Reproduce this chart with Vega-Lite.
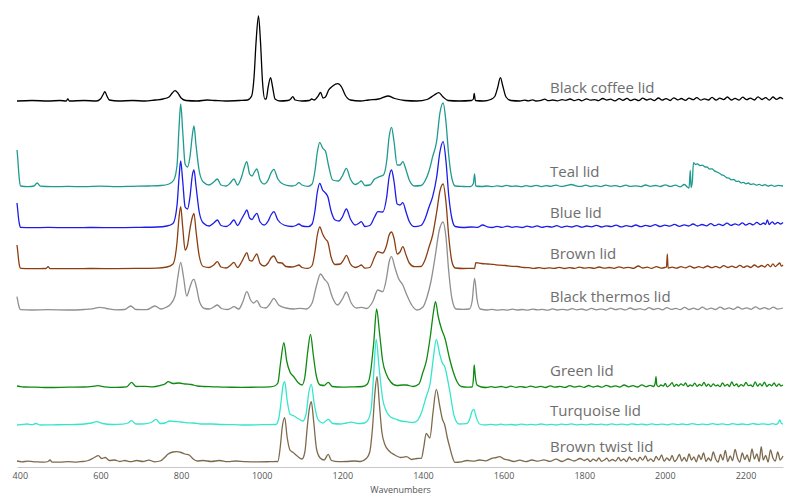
{
  "$schema": "https://vega.github.io/schema/vega-lite/v6.json",
  "autosize": "none",
  "width": 766,
  "height": 467,
  "padding": {"left": 17, "top": 0, "right": 17, "bottom": 33},
  "background": "white",
  "config": {"view": {"stroke": null}},
  "datasets": {
    "coffee": [
      {"wn":393,"i":366},{"wn":430,"i":366.5},{"wn":470,"i":366},{"wn":500,"i":366.5},{"wn":515,"i":366},{"wn":519,"i":368},{"wn":523,"i":366},{"wn":560,"i":366.5},{"wn":590,"i":366},{"wn":600,"i":368},{"wn":606,"i":372},{"wn":611,"i":375.3},{"wn":616,"i":371},{"wn":622,"i":367},{"wn":645,"i":366},{"wn":680,"i":366.5},{"wn":710,"i":366},{"wn":735,"i":367},{"wn":755,"i":368},{"wn":770,"i":370},{"wn":778,"i":374},{"wn":785,"i":376.3},{"wn":792,"i":374},{"wn":800,"i":369},{"wn":812,"i":366.5},{"wn":840,"i":366},{"wn":865,"i":367},{"wn":885,"i":366.5},{"wn":910,"i":366},{"wn":945,"i":366.5},{"wn":965,"i":367},{"wn":975,"i":371},{"wn":981,"i":390},{"wn":986,"i":425},{"wn":992,"i":451},{"wn":997,"i":425},{"wn":1002,"i":385},{"wn":1008,"i":368},{"wn":1011,"i":368},{"wn":1016,"i":380},{"wn":1022,"i":389.3},{"wn":1027,"i":380},{"wn":1033,"i":368},{"wn":1045,"i":366},{"wn":1065,"i":366.5},{"wn":1072,"i":368},{"wn":1077,"i":370.3},{"wn":1083,"i":367},{"wn":1100,"i":366},{"wn":1118,"i":366.5},{"wn":1124,"i":368},{"wn":1130,"i":367},{"wn":1140,"i":371},{"wn":1146,"i":374.7},{"wn":1152,"i":369},{"wn":1158,"i":370},{"wn":1166,"i":377},{"wn":1176,"i":381},{"wn":1189,"i":383.3},{"wn":1198,"i":380},{"wn":1207,"i":372},{"wn":1220,"i":367},{"wn":1245,"i":366},{"wn":1265,"i":367},{"wn":1290,"i":368},{"wn":1313,"i":371},{"wn":1330,"i":368.5},{"wn":1355,"i":366.5},{"wn":1385,"i":366},{"wn":1410,"i":367.5},{"wn":1428,"i":372},{"wn":1439,"i":374.3},{"wn":1450,"i":370},{"wn":1462,"i":366.5},{"wn":1490,"i":366},{"wn":1520,"i":366.5},{"wn":1525,"i":368},{"wn":1527,"i":373.5},{"wn":1530,"i":366.5},{"wn":1550,"i":366},{"wn":1568,"i":367.5},{"wn":1578,"i":370.5},{"wn":1585,"i":379},{"wn":1592,"i":389.3},{"wn":1598,"i":381},{"wn":1606,"i":370},{"wn":1618,"i":366.5},{"wn":1640,"i":366},{"wn":1652,"i":366.8},{"wn":1661,"i":366.2},{"wn":1672,"i":367.2},{"wn":1680,"i":366},{"wn":1693,"i":366.7},{"wn":1702,"i":367.8},{"wn":1711,"i":366.3},{"wn":1722,"i":367},{"wn":1733,"i":366.1},{"wn":1745,"i":367.4},{"wn":1754,"i":366.6},{"wn":1765,"i":368},{"wn":1775,"i":366.4},{"wn":1786,"i":367.6},{"wn":1794,"i":366.2},{"wn":1806,"i":368.2},{"wn":1815,"i":366.8},{"wn":1826,"i":367.4},{"wn":1835,"i":366.3},{"wn":1846,"i":368.5},{"wn":1856,"i":366.9},{"wn":1865,"i":367.8},{"wn":1876,"i":366.2},{"wn":1887,"i":368.3},{"wn":1896,"i":366.7},{"wn":1906,"i":368.6},{"wn":1915,"i":366.5},{"wn":1925,"i":367.9},{"wn":1935,"i":366.3},{"wn":1945,"i":368.8},{"wn":1955,"i":367},{"wn":1964,"i":368.2},{"wn":1974,"i":366.4},{"wn":1984,"i":369},{"wn":1993,"i":366.9},{"wn":2003,"i":368.4},{"wn":2013,"i":366.5},{"wn":2022,"i":369.2},{"wn":2032,"i":367.1},{"wn":2041,"i":368.5},{"wn":2051,"i":366.6},{"wn":2060,"i":368.9},{"wn":2070,"i":367.3},{"wn":2079,"i":369.4},{"wn":2089,"i":366.8},{"wn":2098,"i":368.2},{"wn":2108,"i":367},{"wn":2117,"i":369.6},{"wn":2127,"i":366.9},{"wn":2136,"i":368.8},{"wn":2146,"i":367.4},{"wn":2155,"i":370},{"wn":2165,"i":367},{"wn":2174,"i":368.6},{"wn":2184,"i":366.8},{"wn":2193,"i":369.8},{"wn":2203,"i":367.3},{"wn":2212,"i":368.9},{"wn":2222,"i":367},{"wn":2231,"i":370.2},{"wn":2241,"i":367.5},{"wn":2250,"i":369.3},{"wn":2259,"i":366.9},{"wn":2268,"i":370},{"wn":2277,"i":367.6},{"wn":2286,"i":369.5},{"wn":2293,"i":368}
    ],
    "teal": [
      {"wn":393,"i":317},{"wn":395,"i":308},{"wn":397,"i":296},{"wn":399,"i":287},{"wn":402,"i":281},{"wn":420,"i":280.3},{"wn":435,"i":281},{"wn":443,"i":284},{"wn":451,"i":280.8},{"wn":480,"i":280.3},{"wn":520,"i":280.6},{"wn":560,"i":280.3},{"wn":600,"i":280.8},{"wn":640,"i":280.4},{"wn":680,"i":280.7},{"wn":720,"i":281},{"wn":750,"i":281.5},{"wn":770,"i":283},{"wn":782,"i":287},{"wn":790,"i":302},{"wn":795,"i":340},{"wn":799,"i":363},{"wn":804,"i":336},{"wn":810,"i":303},{"wn":816,"i":300},{"wn":822,"i":310},{"wn":828,"i":332},{"wn":832,"i":341},{"wn":837,"i":322},{"wn":845,"i":296},{"wn":855,"i":285},{"wn":870,"i":282},{"wn":881,"i":285},{"wn":890,"i":288},{"wn":899,"i":282},{"wn":912,"i":281},{"wn":922,"i":284},{"wn":931,"i":288},{"wn":940,"i":282},{"wn":950,"i":290},{"wn":957,"i":300},{"wn":963,"i":305.3},{"wn":970,"i":293},{"wn":976,"i":291},{"wn":982,"i":295},{"wn":988,"i":298},{"wn":996,"i":287},{"wn":1006,"i":283},{"wn":1016,"i":287},{"wn":1023,"i":294},{"wn":1030,"i":297.7},{"wn":1040,"i":288},{"wn":1055,"i":282.5},{"wn":1075,"i":281},{"wn":1085,"i":282},{"wn":1092,"i":284.3},{"wn":1100,"i":282},{"wn":1115,"i":280.7},{"wn":1125,"i":283},{"wn":1132,"i":296},{"wn":1138,"i":315},{"wn":1144,"i":324.7},{"wn":1151,"i":319},{"wn":1158,"i":316},{"wn":1166,"i":301},{"wn":1176,"i":287},{"wn":1190,"i":286},{"wn":1200,"i":291},{"wn":1210,"i":298.7},{"wn":1220,"i":288},{"wn":1232,"i":282.5},{"wn":1240,"i":284},{"wn":1247,"i":286},{"wn":1256,"i":281.5},{"wn":1268,"i":282},{"wn":1280,"i":288},{"wn":1292,"i":290.3},{"wn":1302,"i":292},{"wn":1310,"i":306},{"wn":1316,"i":330},{"wn":1322,"i":339.7},{"wn":1328,"i":326},{"wn":1336,"i":302},{"wn":1343,"i":302},{"wn":1350,"i":305.3},{"wn":1358,"i":297},{"wn":1366,"i":287},{"wn":1379,"i":281},{"wn":1395,"i":281.5},{"wn":1405,"i":286},{"wn":1415,"i":296},{"wn":1424,"i":310.3},{"wn":1434,"i":326},{"wn":1442,"i":354},{"wn":1450,"i":364},{"wn":1457,"i":345},{"wn":1464,"i":311},{"wn":1472,"i":288},{"wn":1480,"i":281},{"wn":1500,"i":280.5},{"wn":1518,"i":280.3},{"wn":1525,"i":283.5},{"wn":1528,"i":293},{"wn":1531,"i":281},{"wn":1545,"i":280.5},{"wn":1560,"i":281},{"wn":1572,"i":280.3},{"wn":1583,"i":281.2},{"wn":1596,"i":280.5},{"wn":1607,"i":281.6},{"wn":1620,"i":280.6},{"wn":1631,"i":281},{"wn":1645,"i":280.3},{"wn":1656,"i":281.4},{"wn":1668,"i":280.5},{"wn":1681,"i":281.7},{"wn":1693,"i":280.4},{"wn":1706,"i":281.3},{"wn":1717,"i":280.7},{"wn":1730,"i":281.9},{"wn":1742,"i":280.6},{"wn":1756,"i":281.5},{"wn":1768,"i":282.5},{"wn":1779,"i":281.2},{"wn":1791,"i":280.6},{"wn":1804,"i":281.8},{"wn":1816,"i":280.5},{"wn":1829,"i":281.3},{"wn":1841,"i":280.4},{"wn":1853,"i":281.9},{"wn":1866,"i":280.8},{"wn":1878,"i":281.4},{"wn":1890,"i":280.3},{"wn":1903,"i":281.8},{"wn":1915,"i":280.6},{"wn":1927,"i":281.2},{"wn":1940,"i":280.4},{"wn":1952,"i":282},{"wn":1964,"i":280.7},{"wn":1977,"i":281.5},{"wn":1989,"i":280.5},{"wn":2001,"i":282.2},{"wn":2013,"i":280.6},{"wn":2026,"i":281.8},{"wn":2038,"i":280.2},{"wn":2048,"i":282.5},{"wn":2055,"i":280.3},{"wn":2060,"i":279},{"wn":2063,"i":296.5},{"wn":2065,"i":279.5},{"wn":2068,"i":285},{"wn":2071,"i":304.3},{"wn":2076,"i":302.5},{"wn":2081,"i":303.2},{"wn":2087,"i":301.4},{"wn":2093,"i":301.8},{"wn":2099,"i":300.2},{"wn":2105,"i":299.8},{"wn":2111,"i":297.9},{"wn":2117,"i":298.2},{"wn":2123,"i":296.1},{"wn":2129,"i":295},{"wn":2135,"i":293.8},{"wn":2141,"i":292.2},{"wn":2147,"i":291.3},{"wn":2153,"i":289.4},{"wn":2159,"i":288.8},{"wn":2165,"i":287.1},{"wn":2171,"i":287.5},{"wn":2177,"i":285.6},{"wn":2183,"i":285.8},{"wn":2189,"i":284.2},{"wn":2195,"i":284.6},{"wn":2201,"i":283.2},{"wn":2207,"i":284},{"wn":2213,"i":282.6},{"wn":2220,"i":283.1},{"wn":2227,"i":281.8},{"wn":2234,"i":282.7},{"wn":2241,"i":281.4},{"wn":2248,"i":282.3},{"wn":2256,"i":280.9},{"wn":2264,"i":281.9},{"wn":2272,"i":280.7},{"wn":2281,"i":281.6},{"wn":2293,"i":281}
    ],
    "blue": [
      {"wn":393,"i":264},{"wn":395,"i":256},{"wn":397,"i":248},{"wn":399,"i":243},{"wn":402,"i":239.6},{"wn":430,"i":239.3},{"wn":470,"i":239.6},{"wn":520,"i":239.3},{"wn":580,"i":239.5},{"wn":640,"i":239.4},{"wn":700,"i":239.7},{"wn":740,"i":240},{"wn":765,"i":241},{"wn":780,"i":243.5},{"wn":790,"i":262},{"wn":795,"i":290},{"wn":799,"i":306},{"wn":804,"i":286},{"wn":810,"i":260},{"wn":816,"i":258},{"wn":822,"i":270},{"wn":828,"i":292},{"wn":832,"i":297},{"wn":837,"i":281},{"wn":845,"i":255},{"wn":855,"i":244},{"wn":870,"i":241},{"wn":881,"i":244},{"wn":890,"i":247},{"wn":899,"i":241.5},{"wn":912,"i":240.5},{"wn":922,"i":243},{"wn":931,"i":247},{"wn":940,"i":241.5},{"wn":950,"i":248},{"wn":957,"i":253},{"wn":963,"i":257},{"wn":970,"i":249},{"wn":976,"i":247.5},{"wn":982,"i":251},{"wn":988,"i":253.7},{"wn":996,"i":245},{"wn":1006,"i":242},{"wn":1016,"i":246},{"wn":1023,"i":252},{"wn":1030,"i":255.3},{"wn":1040,"i":247},{"wn":1055,"i":242},{"wn":1075,"i":240.5},{"wn":1085,"i":241.5},{"wn":1092,"i":243},{"wn":1100,"i":241},{"wn":1115,"i":240.3},{"wn":1125,"i":243},{"wn":1132,"i":256},{"wn":1138,"i":275},{"wn":1144,"i":283.7},{"wn":1151,"i":277},{"wn":1158,"i":274},{"wn":1164,"i":270.3},{"wn":1172,"i":256},{"wn":1182,"i":247},{"wn":1192,"i":246},{"wn":1200,"i":250},{"wn":1210,"i":258},{"wn":1220,"i":248},{"wn":1232,"i":242},{"wn":1240,"i":243.5},{"wn":1247,"i":245.3},{"wn":1256,"i":240.5},{"wn":1268,"i":241.5},{"wn":1280,"i":250},{"wn":1288,"i":255.3},{"wn":1300,"i":255},{"wn":1310,"i":270},{"wn":1316,"i":290},{"wn":1322,"i":297},{"wn":1328,"i":286},{"wn":1336,"i":263},{"wn":1343,"i":262},{"wn":1350,"i":264.3},{"wn":1358,"i":255},{"wn":1366,"i":245.5},{"wn":1379,"i":240.3},{"wn":1395,"i":241.5},{"wn":1405,"i":248},{"wn":1415,"i":260},{"wn":1424,"i":270.3},{"wn":1434,"i":290},{"wn":1442,"i":315},{"wn":1450,"i":325.3},{"wn":1457,"i":306},{"wn":1464,"i":271},{"wn":1472,"i":248},{"wn":1480,"i":240.5},{"wn":1500,"i":239.5},{"wn":1520,"i":240},{"wn":1535,"i":239.6},{"wn":1548,"i":242},{"wn":1560,"i":240.2},{"wn":1572,"i":239.5},{"wn":1584,"i":240.6},{"wn":1596,"i":239.6},{"wn":1609,"i":240.9},{"wn":1621,"i":239.7},{"wn":1633,"i":240.4},{"wn":1646,"i":239.5},{"wn":1658,"i":240.8},{"wn":1670,"i":239.8},{"wn":1683,"i":241.1},{"wn":1695,"i":239.6},{"wn":1707,"i":240.6},{"wn":1720,"i":239.9},{"wn":1732,"i":241.3},{"wn":1744,"i":239.7},{"wn":1757,"i":240.9},{"wn":1769,"i":240},{"wn":1781,"i":241.4},{"wn":1794,"i":239.8},{"wn":1806,"i":241},{"wn":1818,"i":240.1},{"wn":1830,"i":241.6},{"wn":1843,"i":240},{"wn":1855,"i":241.2},{"wn":1867,"i":240.3},{"wn":1879,"i":241.8},{"wn":1892,"i":240.1},{"wn":1904,"i":241.3},{"wn":1916,"i":240.4},{"wn":1928,"i":242},{"wn":1940,"i":240.3},{"wn":1952,"i":241.6},{"wn":1964,"i":240.6},{"wn":1976,"i":242.3},{"wn":1988,"i":240.5},{"wn":2000,"i":241.9},{"wn":2012,"i":240.8},{"wn":2024,"i":242.6},{"wn":2036,"i":240.7},{"wn":2048,"i":242.2},{"wn":2059,"i":241},{"wn":2070,"i":243},{"wn":2081,"i":241},{"wn":2092,"i":242.5},{"wn":2103,"i":241.2},{"wn":2114,"i":243.4},{"wn":2124,"i":241.3},{"wn":2134,"i":242.8},{"wn":2144,"i":241.5},{"wn":2154,"i":243.8},{"wn":2164,"i":241.6},{"wn":2174,"i":243.2},{"wn":2183,"i":241.8},{"wn":2192,"i":244.2},{"wn":2201,"i":242},{"wn":2210,"i":243.6},{"wn":2219,"i":242.1},{"wn":2228,"i":244.6},{"wn":2237,"i":242.3},{"wn":2245,"i":244},{"wn":2250,"i":242.6},{"wn":2254,"i":247},{"wn":2259,"i":242.5},{"wn":2266,"i":245.2},{"wn":2273,"i":242.8},{"wn":2280,"i":244.6},{"wn":2287,"i":243},{"wn":2293,"i":244.5}
    ],
    "brown": [
      {"wn":393,"i":222},{"wn":395,"i":215},{"wn":397,"i":207},{"wn":399,"i":201.5},{"wn":402,"i":198.6},{"wn":430,"i":198.3},{"wn":465,"i":198.5},{"wn":470,"i":200.3},{"wn":475,"i":198.4},{"wn":520,"i":198.3},{"wn":580,"i":198.5},{"wn":640,"i":198.4},{"wn":700,"i":198.6},{"wn":740,"i":198.8},{"wn":765,"i":200},{"wn":780,"i":203},{"wn":790,"i":225},{"wn":795,"i":250},{"wn":799,"i":260.3},{"wn":804,"i":240},{"wn":810,"i":217},{"wn":816,"i":222},{"wn":822,"i":238},{"wn":828,"i":250},{"wn":832,"i":253.7},{"wn":837,"i":236},{"wn":845,"i":211},{"wn":855,"i":200.5},{"wn":870,"i":199.5},{"wn":881,"i":202},{"wn":890,"i":205.3},{"wn":899,"i":200},{"wn":912,"i":199},{"wn":922,"i":201.5},{"wn":931,"i":204.7},{"wn":940,"i":199.5},{"wn":950,"i":205},{"wn":957,"i":210.5},{"wn":963,"i":214.3},{"wn":970,"i":206.5},{"wn":976,"i":206},{"wn":982,"i":210},{"wn":988,"i":213},{"wn":996,"i":203.5},{"wn":1006,"i":201},{"wn":1016,"i":204},{"wn":1023,"i":209},{"wn":1030,"i":211},{"wn":1040,"i":204.5},{"wn":1050,"i":204},{"wn":1060,"i":200.5},{"wn":1075,"i":200},{"wn":1085,"i":201},{"wn":1092,"i":202},{"wn":1100,"i":199.5},{"wn":1115,"i":198.6},{"wn":1125,"i":201.5},{"wn":1132,"i":215},{"wn":1138,"i":232},{"wn":1144,"i":240},{"wn":1151,"i":233},{"wn":1158,"i":228},{"wn":1164,"i":225},{"wn":1172,"i":210},{"wn":1182,"i":202.5},{"wn":1195,"i":203},{"wn":1203,"i":207},{"wn":1210,"i":211.7},{"wn":1220,"i":203},{"wn":1232,"i":199.5},{"wn":1240,"i":200.5},{"wn":1247,"i":202},{"wn":1256,"i":198.8},{"wn":1268,"i":199.5},{"wn":1280,"i":210},{"wn":1288,"i":215.3},{"wn":1300,"i":214},{"wn":1310,"i":222},{"wn":1316,"i":232},{"wn":1322,"i":235},{"wn":1328,"i":229},{"wn":1336,"i":213},{"wn":1343,"i":215},{"wn":1350,"i":220.3},{"wn":1358,"i":212},{"wn":1366,"i":204},{"wn":1379,"i":200.3},{"wn":1395,"i":200.5},{"wn":1405,"i":207},{"wn":1415,"i":220},{"wn":1424,"i":232},{"wn":1434,"i":255},{"wn":1442,"i":276},{"wn":1450,"i":283},{"wn":1457,"i":265},{"wn":1464,"i":230},{"wn":1472,"i":205},{"wn":1480,"i":199},{"wn":1500,"i":198.5},{"wn":1520,"i":198.7},{"wn":1528,"i":198.5},{"wn":1531,"i":204.3},{"wn":1545,"i":203.5},{"wn":1560,"i":203},{"wn":1575,"i":202.6},{"wn":1590,"i":201.8},{"wn":1605,"i":201.5},{"wn":1620,"i":200.6},{"wn":1635,"i":200.5},{"wn":1650,"i":199.5},{"wn":1663,"i":199.3},{"wn":1676,"i":198.6},{"wn":1688,"i":199.4},{"wn":1701,"i":198.5},{"wn":1713,"i":199.1},{"wn":1726,"i":198.6},{"wn":1738,"i":199.6},{"wn":1751,"i":198.5},{"wn":1763,"i":199.3},{"wn":1776,"i":198.7},{"wn":1788,"i":199.8},{"wn":1800,"i":198.8},{"wn":1813,"i":199.4},{"wn":1825,"i":198.6},{"wn":1837,"i":200},{"wn":1850,"i":198.8},{"wn":1862,"i":199.5},{"wn":1874,"i":198.7},{"wn":1886,"i":200.2},{"wn":1898,"i":198.9},{"wn":1910,"i":199.7},{"wn":1922,"i":198.7},{"wn":1934,"i":201},{"wn":1945,"i":199},{"wn":1956,"i":199.8},{"wn":1967,"i":198.7},{"wn":1979,"i":200.3},{"wn":1991,"i":198.9},{"wn":2000,"i":199.5},{"wn":2004,"i":200},{"wn":2006,"i":213},{"wn":2008,"i":199},{"wn":2018,"i":199.9},{"wn":2029,"i":198.8},{"wn":2040,"i":200.4},{"wn":2051,"i":199.1},{"wn":2062,"i":200.8},{"wn":2073,"i":199},{"wn":2084,"i":200.3},{"wn":2095,"i":199.2},{"wn":2106,"i":201},{"wn":2116,"i":199.3},{"wn":2126,"i":200.6},{"wn":2136,"i":199.2},{"wn":2146,"i":201.4},{"wn":2156,"i":199.5},{"wn":2166,"i":200.8},{"wn":2176,"i":199.4},{"wn":2186,"i":201.7},{"wn":2195,"i":199.6},{"wn":2204,"i":201.2},{"wn":2213,"i":199.5},{"wn":2222,"i":202},{"wn":2231,"i":199.8},{"wn":2240,"i":201.5},{"wn":2248,"i":200},{"wn":2255,"i":202.6},{"wn":2262,"i":200.2},{"wn":2268,"i":203.2},{"wn":2274,"i":200.4},{"wn":2280,"i":202.4},{"wn":2285,"i":204},{"wn":2289,"i":200.8},{"wn":2293,"i":202}
    ],
    "thermos": [
      {"wn":393,"i":170.3},{"wn":395,"i":166},{"wn":397,"i":162},{"wn":399,"i":159},{"wn":402,"i":157.3},{"wn":430,"i":157},{"wn":470,"i":157.3},{"wn":520,"i":157},{"wn":560,"i":157.5},{"wn":580,"i":158.2},{"wn":598,"i":159.7},{"wn":615,"i":158.5},{"wn":640,"i":157.2},{"wn":660,"i":157.5},{"wn":675,"i":161},{"wn":688,"i":157.5},{"wn":715,"i":157.3},{"wn":735,"i":161},{"wn":750,"i":158},{"wn":762,"i":159.5},{"wn":772,"i":162},{"wn":785,"i":171},{"wn":792,"i":190},{"wn":799,"i":204.7},{"wn":806,"i":190},{"wn":814,"i":171},{"wn":822,"i":180},{"wn":828,"i":186.5},{"wn":832,"i":187.7},{"wn":838,"i":180},{"wn":846,"i":165},{"wn":858,"i":158.5},{"wn":870,"i":158},{"wn":881,"i":160},{"wn":890,"i":162},{"wn":900,"i":158.5},{"wn":915,"i":157.5},{"wn":922,"i":158.5},{"wn":931,"i":160.3},{"wn":943,"i":158},{"wn":953,"i":165},{"wn":963,"i":175.3},{"wn":973,"i":166.5},{"wn":980,"i":164},{"wn":988,"i":166.3},{"wn":998,"i":160},{"wn":1010,"i":159},{"wn":1020,"i":163},{"wn":1030,"i":168.7},{"wn":1042,"i":162},{"wn":1060,"i":159},{"wn":1080,"i":158},{"wn":1095,"i":158.7},{"wn":1110,"i":158},{"wn":1125,"i":164},{"wn":1135,"i":180},{"wn":1146,"i":193},{"wn":1155,"i":188},{"wn":1164,"i":183.7},{"wn":1175,"i":170},{"wn":1188,"i":162},{"wn":1200,"i":168},{"wn":1210,"i":175},{"wn":1222,"i":164},{"wn":1235,"i":159},{"wn":1248,"i":159.7},{"wn":1260,"i":158.5},{"wn":1275,"i":165},{"wn":1288,"i":177},{"wn":1300,"i":175.3},{"wn":1310,"i":190},{"wn":1316,"i":205},{"wn":1322,"i":210.3},{"wn":1330,"i":200},{"wn":1340,"i":188},{"wn":1350,"i":182},{"wn":1360,"i":172},{"wn":1372,"i":162},{"wn":1385,"i":157},{"wn":1400,"i":160},{"wn":1410,"i":170},{"wn":1420,"i":186},{"wn":1430,"i":210},{"wn":1440,"i":236},{"wn":1450,"i":245},{"wn":1457,"i":230},{"wn":1464,"i":195},{"wn":1472,"i":168},{"wn":1482,"i":158},{"wn":1500,"i":157.7},{"wn":1515,"i":158},{"wn":1522,"i":166},{"wn":1528,"i":188.7},{"wn":1534,"i":168},{"wn":1542,"i":158},{"wn":1560,"i":157},{"wn":1572,"i":157.6},{"wn":1585,"i":156.8},{"wn":1597,"i":157.4},{"wn":1610,"i":156.9},{"wn":1622,"i":157.8},{"wn":1634,"i":157},{"wn":1647,"i":157.5},{"wn":1659,"i":156.8},{"wn":1672,"i":157.9},{"wn":1684,"i":157.1},{"wn":1696,"i":157.6},{"wn":1709,"i":156.8},{"wn":1721,"i":158.1},{"wn":1733,"i":157},{"wn":1746,"i":157.7},{"wn":1758,"i":156.9},{"wn":1770,"i":158.4},{"wn":1782,"i":157.1},{"wn":1794,"i":158},{"wn":1806,"i":156.9},{"wn":1818,"i":158.6},{"wn":1830,"i":157.2},{"wn":1842,"i":158.1},{"wn":1854,"i":157},{"wn":1866,"i":158.9},{"wn":1878,"i":157.3},{"wn":1890,"i":158.3},{"wn":1902,"i":157.1},{"wn":1914,"i":159},{"wn":1926,"i":157.4},{"wn":1938,"i":158.4},{"wn":1950,"i":157.1},{"wn":1961,"i":159.3},{"wn":1972,"i":157.5},{"wn":1983,"i":158.6},{"wn":1994,"i":157.2},{"wn":2005,"i":159.4},{"wn":2016,"i":157.6},{"wn":2027,"i":158.7},{"wn":2038,"i":157.3},{"wn":2049,"i":159.6},{"wn":2060,"i":157.5},{"wn":2071,"i":158.9},{"wn":2082,"i":157.4},{"wn":2093,"i":159.8},{"wn":2104,"i":157.7},{"wn":2115,"i":158.8},{"wn":2126,"i":157.5},{"wn":2137,"i":159.9},{"wn":2148,"i":157.8},{"wn":2159,"i":159.1},{"wn":2170,"i":157.6},{"wn":2181,"i":160},{"wn":2192,"i":157.9},{"wn":2203,"i":159.2},{"wn":2214,"i":157.7},{"wn":2225,"i":160.1},{"wn":2236,"i":158},{"wn":2247,"i":159.4},{"wn":2258,"i":157.8},{"wn":2269,"i":159.8},{"wn":2280,"i":157.9},{"wn":2293,"i":159}
    ],
    "green": [
      {"wn":393,"i":81},{"wn":400,"i":80.5},{"wn":410,"i":80},{"wn":440,"i":79.8},{"wn":470,"i":79.5},{"wn":520,"i":79.8},{"wn":560,"i":80},{"wn":580,"i":80.6},{"wn":594,"i":81.3},{"wn":610,"i":80.2},{"wn":640,"i":79.7},{"wn":665,"i":80.2},{"wn":677,"i":84.7},{"wn":688,"i":80.5},{"wn":710,"i":80.6},{"wn":730,"i":80.2},{"wn":748,"i":81.5},{"wn":760,"i":83},{"wn":768,"i":85.3},{"wn":780,"i":83.5},{"wn":795,"i":84},{"wn":810,"i":83},{"wn":825,"i":82.5},{"wn":840,"i":81},{"wn":855,"i":80.5},{"wn":880,"i":80.2},{"wn":910,"i":79.8},{"wn":950,"i":79.7},{"wn":990,"i":79.8},{"wn":1020,"i":80.2},{"wn":1032,"i":81},{"wn":1040,"i":84},{"wn":1047,"i":105},{"wn":1055,"i":124.3},{"wn":1062,"i":106},{"wn":1070,"i":95},{"wn":1080,"i":90},{"wn":1090,"i":84.5},{"wn":1100,"i":82},{"wn":1107,"i":90},{"wn":1114,"i":115},{"wn":1121,"i":132.7},{"wn":1128,"i":112},{"wn":1135,"i":92},{"wn":1145,"i":82},{"wn":1155,"i":81.5},{"wn":1165,"i":84.7},{"wn":1175,"i":80.5},{"wn":1200,"i":79.8},{"wn":1230,"i":80.2},{"wn":1250,"i":80.5},{"wn":1262,"i":83},{"wn":1270,"i":95},{"wn":1278,"i":125},{"wn":1285,"i":158},{"wn":1292,"i":135},{"wn":1300,"i":106},{"wn":1310,"i":92},{"wn":1320,"i":85},{"wn":1335,"i":81.5},{"wn":1350,"i":82},{"wn":1359,"i":82},{"wn":1375,"i":80.5},{"wn":1390,"i":83},{"wn":1400,"i":95},{"wn":1408,"i":105.3},{"wn":1418,"i":130},{"wn":1426,"i":155},{"wn":1431,"i":165.3},{"wn":1438,"i":150},{"wn":1446,"i":138},{"wn":1455,"i":128},{"wn":1465,"i":110},{"wn":1475,"i":95.3},{"wn":1485,"i":85},{"wn":1495,"i":80.5},{"wn":1510,"i":79.8},{"wn":1522,"i":80},{"wn":1525,"i":88},{"wn":1527,"i":102},{"wn":1530,"i":90},{"wn":1534,"i":82},{"wn":1545,"i":80},{"wn":1557,"i":79.5},{"wn":1569,"i":80.3},{"wn":1581,"i":79.6},{"wn":1594,"i":80.5},{"wn":1606,"i":79.5},{"wn":1618,"i":80.8},{"wn":1631,"i":79.7},{"wn":1643,"i":80.4},{"wn":1655,"i":79.6},{"wn":1667,"i":80.9},{"wn":1680,"i":79.7},{"wn":1692,"i":80.6},{"wn":1704,"i":79.5},{"wn":1716,"i":81.1},{"wn":1728,"i":79.8},{"wn":1740,"i":80.7},{"wn":1752,"i":79.6},{"wn":1764,"i":81.3},{"wn":1776,"i":79.9},{"wn":1788,"i":80.8},{"wn":1800,"i":79.7},{"wn":1811,"i":81.5},{"wn":1822,"i":80},{"wn":1833,"i":81},{"wn":1844,"i":79.8},{"wn":1855,"i":81.7},{"wn":1866,"i":80.1},{"wn":1877,"i":81.2},{"wn":1888,"i":79.9},{"wn":1899,"i":82},{"wn":1910,"i":80.2},{"wn":1921,"i":81.4},{"wn":1932,"i":80},{"wn":1943,"i":82.2},{"wn":1953,"i":80.3},{"wn":1963,"i":81.6},{"wn":1972,"i":80.5},{"wn":1976,"i":84},{"wn":1978,"i":90.3},{"wn":1980,"i":82},{"wn":1985,"i":80.3},{"wn":1990,"i":82},{"wn":1996,"i":80.8},{"wn":2001,"i":83.5},{"wn":2006,"i":80.2},{"wn":2012,"i":81.8},{"wn":2018,"i":84.3},{"wn":2023,"i":80.5},{"wn":2029,"i":82.6},{"wn":2034,"i":80.9},{"wn":2040,"i":83.2},{"wn":2046,"i":81.5},{"wn":2051,"i":84},{"wn":2057,"i":80.4},{"wn":2063,"i":82.2},{"wn":2068,"i":81},{"wn":2074,"i":83.8},{"wn":2080,"i":80.6},{"wn":2086,"i":82.5},{"wn":2091,"i":81.2},{"wn":2097,"i":84.6},{"wn":2103,"i":80.7},{"wn":2108,"i":82.9},{"wn":2114,"i":80.4},{"wn":2120,"i":83.2},{"wn":2126,"i":81.1},{"wn":2131,"i":82},{"wn":2137,"i":80.3},{"wn":2143,"i":84.2},{"wn":2149,"i":81},{"wn":2155,"i":82.7},{"wn":2160,"i":80.5},{"wn":2166,"i":85},{"wn":2172,"i":81.2},{"wn":2178,"i":83},{"wn":2183,"i":80.2},{"wn":2189,"i":82.4},{"wn":2195,"i":80.9},{"wn":2201,"i":84.6},{"wn":2207,"i":81.3},{"wn":2213,"i":82},{"wn":2218,"i":80.4},{"wn":2224,"i":85.2},{"wn":2230,"i":80.8},{"wn":2236,"i":83.4},{"wn":2241,"i":81},{"wn":2247,"i":84.8},{"wn":2253,"i":80.5},{"wn":2259,"i":82.6},{"wn":2265,"i":81.2},{"wn":2271,"i":84},{"wn":2277,"i":80.6},{"wn":2283,"i":83.1},{"wn":2288,"i":81},{"wn":2293,"i":82}
    ],
    "turquoise": [
      {"wn":393,"i":42},{"wn":405,"i":42.5},{"wn":418,"i":43},{"wn":430,"i":42.3},{"wn":440,"i":43.5},{"wn":450,"i":42},{"wn":480,"i":42.2},{"wn":520,"i":42.4},{"wn":560,"i":43},{"wn":578,"i":44},{"wn":590,"i":45.3},{"wn":605,"i":43.5},{"wn":630,"i":42.5},{"wn":655,"i":42.8},{"wn":668,"i":44},{"wn":677,"i":46.3},{"wn":688,"i":43},{"wn":710,"i":43.2},{"wn":728,"i":45},{"wn":738,"i":47.7},{"wn":748,"i":43.5},{"wn":760,"i":44},{"wn":772,"i":46},{"wn":785,"i":45.5},{"wn":800,"i":45},{"wn":815,"i":44.2},{"wn":830,"i":44},{"wn":850,"i":43},{"wn":875,"i":43},{"wn":900,"i":42.5},{"wn":930,"i":42.3},{"wn":960,"i":42},{"wn":1000,"i":42.3},{"wn":1035,"i":42.5},{"wn":1042,"i":48},{"wn":1048,"i":65},{"wn":1053,"i":82},{"wn":1057,"i":85.3},{"wn":1063,"i":67},{"wn":1070,"i":53},{"wn":1080,"i":51},{"wn":1092,"i":48},{"wn":1102,"i":46},{"wn":1110,"i":53},{"wn":1117,"i":75},{"wn":1123,"i":82.7},{"wn":1130,"i":64},{"wn":1139,"i":48},{"wn":1152,"i":44},{"wn":1165,"i":47.7},{"wn":1176,"i":43.5},{"wn":1195,"i":43},{"wn":1210,"i":44},{"wn":1222,"i":44.8},{"wn":1240,"i":43.3},{"wn":1255,"i":44},{"wn":1265,"i":48},{"wn":1272,"i":60},{"wn":1278,"i":95},{"wn":1284,"i":127.7},{"wn":1291,"i":100},{"wn":1300,"i":68},{"wn":1310,"i":55},{"wn":1320,"i":50},{"wn":1332,"i":48},{"wn":1345,"i":46},{"wn":1359,"i":45.3},{"wn":1375,"i":44.5},{"wn":1385,"i":46},{"wn":1395,"i":53},{"wn":1408,"i":70.3},{"wn":1418,"i":84},{"wn":1426,"i":110},{"wn":1433,"i":127.7},{"wn":1442,"i":112},{"wn":1448,"i":104},{"wn":1454,"i":100.3},{"wn":1466,"i":77},{"wn":1478,"i":50},{"wn":1490,"i":43},{"wn":1508,"i":43.3},{"wn":1516,"i":48},{"wn":1522,"i":56},{"wn":1526,"i":57.7},{"wn":1532,"i":50},{"wn":1540,"i":43},{"wn":1555,"i":42},{"wn":1568,"i":42.6},{"wn":1581,"i":42},{"wn":1593,"i":42.8},{"wn":1606,"i":42.1},{"wn":1618,"i":42.5},{"wn":1631,"i":42},{"wn":1643,"i":42.9},{"wn":1656,"i":42.2},{"wn":1668,"i":42.6},{"wn":1681,"i":42.1},{"wn":1693,"i":43},{"wn":1706,"i":42.2},{"wn":1718,"i":42.7},{"wn":1731,"i":42},{"wn":1743,"i":42.9},{"wn":1756,"i":42.3},{"wn":1768,"i":43.1},{"wn":1781,"i":42.2},{"wn":1793,"i":42.7},{"wn":1806,"i":42.1},{"wn":1818,"i":43},{"wn":1831,"i":42.3},{"wn":1843,"i":42.8},{"wn":1856,"i":42.1},{"wn":1868,"i":43.1},{"wn":1881,"i":42.2},{"wn":1893,"i":42.9},{"wn":1906,"i":42.2},{"wn":1918,"i":43.2},{"wn":1931,"i":42.3},{"wn":1943,"i":42.8},{"wn":1956,"i":42.2},{"wn":1968,"i":43.1},{"wn":1981,"i":42.3},{"wn":1993,"i":42.9},{"wn":2006,"i":42.2},{"wn":2018,"i":43.2},{"wn":2031,"i":42.4},{"wn":2043,"i":43},{"wn":2056,"i":42.3},{"wn":2068,"i":43.3},{"wn":2081,"i":42.4},{"wn":2093,"i":42.9},{"wn":2106,"i":42.3},{"wn":2118,"i":43.3},{"wn":2131,"i":42.5},{"wn":2143,"i":43.1},{"wn":2156,"i":42.3},{"wn":2168,"i":43.4},{"wn":2181,"i":42.5},{"wn":2193,"i":43},{"wn":2206,"i":42.4},{"wn":2218,"i":43.4},{"wn":2231,"i":42.6},{"wn":2243,"i":43.1},{"wn":2256,"i":42.5},{"wn":2268,"i":43.3},{"wn":2276,"i":42.6},{"wn":2281,"i":44},{"wn":2285,"i":47},{"wn":2289,"i":43.5},{"wn":2293,"i":43}
    ],
    "twist": [
      {"wn":393,"i":6},{"wn":405,"i":5.2},{"wn":420,"i":5.8},{"wn":440,"i":5.2},{"wn":460,"i":4.8},{"wn":470,"i":5.5},{"wn":475,"i":7},{"wn":480,"i":4.9},{"wn":500,"i":4.8},{"wn":520,"i":5.3},{"wn":540,"i":4.8},{"wn":555,"i":5.5},{"wn":570,"i":6.5},{"wn":583,"i":9},{"wn":595,"i":11.3},{"wn":603,"i":8.5},{"wn":612,"i":9.5},{"wn":622,"i":6.5},{"wn":635,"i":7},{"wn":648,"i":5.5},{"wn":660,"i":6.5},{"wn":675,"i":5.3},{"wn":690,"i":6.5},{"wn":705,"i":5.5},{"wn":720,"i":6.8},{"wn":735,"i":5.2},{"wn":748,"i":6},{"wn":758,"i":9},{"wn":768,"i":13},{"wn":780,"i":15},{"wn":789,"i":15.3},{"wn":800,"i":14.5},{"wn":810,"i":13},{"wn":820,"i":12},{"wn":830,"i":8},{"wn":840,"i":6},{"wn":855,"i":6.5},{"wn":875,"i":5.5},{"wn":895,"i":6.5},{"wn":915,"i":5.3},{"wn":935,"i":6},{"wn":960,"i":5.3},{"wn":990,"i":5.1},{"wn":1020,"i":5.3},{"wn":1040,"i":5.5},{"wn":1046,"i":20},{"wn":1051,"i":40},{"wn":1057,"i":49.3},{"wn":1063,"i":30},{"wn":1070,"i":17},{"wn":1078,"i":14.5},{"wn":1088,"i":11},{"wn":1100,"i":8},{"wn":1107,"i":15},{"wn":1113,"i":40},{"wn":1118,"i":58},{"wn":1123,"i":65.3},{"wn":1129,"i":45},{"wn":1136,"i":18},{"wn":1145,"i":9},{"wn":1155,"i":7},{"wn":1165,"i":12.7},{"wn":1173,"i":6.5},{"wn":1190,"i":5.3},{"wn":1210,"i":5.5},{"wn":1230,"i":6},{"wn":1245,"i":5.5},{"wn":1260,"i":8.7},{"wn":1268,"i":15},{"wn":1275,"i":40},{"wn":1281,"i":75},{"wn":1286,"i":90.3},{"wn":1292,"i":62},{"wn":1298,"i":35},{"wn":1306,"i":22},{"wn":1316,"i":16},{"wn":1330,"i":12},{"wn":1345,"i":9.5},{"wn":1359,"i":10.3},{"wn":1372,"i":7.5},{"wn":1385,"i":8.5},{"wn":1396,"i":8.7},{"wn":1402,"i":20},{"wn":1408,"i":33.7},{"wn":1417,"i":29},{"wn":1425,"i":55},{"wn":1433,"i":77.7},{"wn":1442,"i":60},{"wn":1448,"i":48},{"wn":1454,"i":42},{"wn":1460,"i":30},{"wn":1466,"i":20.3},{"wn":1473,"i":10},{"wn":1479,"i":4.7},{"wn":1495,"i":5.2},{"wn":1510,"i":6.5},{"wn":1525,"i":5.8},{"wn":1540,"i":7},{"wn":1555,"i":6.2},{"wn":1570,"i":8.5},{"wn":1582,"i":9.5},{"wn":1590,"i":10.3},{"wn":1600,"i":8.2},{"wn":1612,"i":7},{"wn":1625,"i":5.5},{"wn":1640,"i":6.8},{"wn":1655,"i":5.3},{"wn":1670,"i":7},{"wn":1685,"i":5.8},{"wn":1700,"i":7.2},{"wn":1715,"i":5.6},{"wn":1730,"i":7.8},{"wn":1745,"i":5.5},{"wn":1760,"i":8},{"wn":1775,"i":6},{"wn":1790,"i":8.5},{"wn":1800,"i":6.5},{"wn":1808,"i":8},{"wn":1815,"i":5.5},{"wn":1822,"i":7.8},{"wn":1830,"i":6},{"wn":1836,"i":9},{"wn":1843,"i":5.7},{"wn":1850,"i":7},{"wn":1856,"i":8.8},{"wn":1862,"i":5.8},{"wn":1870,"i":7.5},{"wn":1878,"i":6},{"wn":1885,"i":9.5},{"wn":1891,"i":6.2},{"wn":1898,"i":8},{"wn":1905,"i":5.4},{"wn":1912,"i":10},{"wn":1918,"i":7},{"wn":1925,"i":8.5},{"wn":1932,"i":5.6},{"wn":1938,"i":9.8},{"wn":1945,"i":6.8},{"wn":1952,"i":11},{"wn":1958,"i":6},{"wn":1965,"i":8.2},{"wn":1972,"i":5.5},{"wn":1978,"i":10.5},{"wn":1985,"i":7},{"wn":1992,"i":12},{"wn":1998,"i":5.8},{"wn":2005,"i":9},{"wn":2012,"i":6.5},{"wn":2018,"i":11.5},{"wn":2024,"i":5.3},{"wn":2030,"i":8},{"wn":2036,"i":12.5},{"wn":2042,"i":6},{"wn":2048,"i":9.5},{"wn":2054,"i":5.6},{"wn":2060,"i":13},{"wn":2066,"i":7},{"wn":2072,"i":10},{"wn":2078,"i":5.2},{"wn":2084,"i":12},{"wn":2090,"i":7.5},{"wn":2096,"i":14},{"wn":2102,"i":5.5},{"wn":2108,"i":9},{"wn":2114,"i":6.2},{"wn":2120,"i":15},{"wn":2126,"i":8},{"wn":2132,"i":5},{"wn":2138,"i":12.5},{"wn":2144,"i":7},{"wn":2150,"i":16.5},{"wn":2156,"i":5.4},{"wn":2162,"i":11},{"wn":2168,"i":6.5},{"wn":2174,"i":17.5},{"wn":2180,"i":9},{"wn":2186,"i":5},{"wn":2192,"i":14},{"wn":2198,"i":7.5},{"wn":2204,"i":12},{"wn":2210,"i":5.3},{"wn":2216,"i":18},{"wn":2222,"i":8},{"wn":2228,"i":13},{"wn":2234,"i":5.5},{"wn":2239,"i":20.3},{"wn":2244,"i":7},{"wn":2250,"i":11.5},{"wn":2256,"i":5},{"wn":2262,"i":17},{"wn":2268,"i":9},{"wn":2274,"i":6},{"wn":2280,"i":15},{"wn":2286,"i":7},{"wn":2293,"i":11}
    ],
    "labels": [
      {"lid":"Black coffee lid","wn":1715,"i":379},
      {"lid":"Teal lid","wn":1715,"i":295.3},
      {"lid":"Blue lid","wn":1715,"i":253.7},
      {"lid":"Brown lid","wn":1715,"i":213},
      {"lid":"Black thermos lid","wn":1715,"i":170.3},
      {"lid":"Green lid","wn":1715,"i":96},
      {"lid":"Turquoise lid","wn":1715,"i":56},
      {"lid":"Brown twist lid","wn":1715,"i":20.3}
    ]
  },
  "encoding": {
    "x": {
      "field": "wn",
      "type": "quantitative",
      "scale": {"domain": [393, 2293], "nice": false, "zero": false},
      "axis": {
        "values": [400, 600, 800, 1000, 1200, 1400, 1600, 1800, 2000, 2200],
        "format": "d",
        "grid": false,
        "ticks": false,
        "domainColor": "#c8c8c8",
        "domainWidth": 1,
        "labelColor": "#555555",
        "labelFont": "Open Sans",
        "labelFontSize": 9,
        "labelPadding": 4,
        "labelFlush": false,
        "labelOverlap": false,
        "title": "Wavenumbers",
        "titleFont": "Open Sans",
        "titleFontSize": 9,
        "titleFontWeight": "normal",
        "titleColor": "#555555",
        "titlePadding": 5
      }
    },
    "y": {
      "field": "i",
      "type": "quantitative",
      "scale": {"domain": [0, 467], "nice": false, "zero": false},
      "axis": null
    }
  },
  "layer": [
    {"data": {"name": "coffee"}, "mark": {"type": "line", "color": "#000000", "strokeWidth": 1.3, "interpolate": "monotone"}},
    {"data": {"name": "teal"}, "mark": {"type": "line", "color": "#1f9a8e", "strokeWidth": 1.3, "interpolate": "monotone"}},
    {"data": {"name": "blue"}, "mark": {"type": "line", "color": "#1c1ce8", "strokeWidth": 1.3, "interpolate": "monotone"}},
    {"data": {"name": "brown"}, "mark": {"type": "line", "color": "#8b3e12", "strokeWidth": 1.3, "interpolate": "monotone"}},
    {"data": {"name": "thermos"}, "mark": {"type": "line", "color": "#8f8f8f", "strokeWidth": 1.3, "interpolate": "monotone"}},
    {"data": {"name": "green"}, "mark": {"type": "line", "color": "#0e8a12", "strokeWidth": 1.3, "interpolate": "monotone"}},
    {"data": {"name": "turquoise"}, "mark": {"type": "line", "color": "#35e6cc", "strokeWidth": 1.3, "interpolate": "monotone"}},
    {"data": {"name": "twist"}, "mark": {"type": "line", "color": "#7d6a4c", "strokeWidth": 1.3, "interpolate": "monotone"}},
    {
      "data": {"name": "labels"},
      "mark": {"type": "text", "align": "left", "baseline": "middle", "font": "Open Sans", "fontSize": 15, "color": "#6e6e6e"},
      "encoding": {"text": {"field": "lid", "type": "nominal"}}
    }
  ]
}
